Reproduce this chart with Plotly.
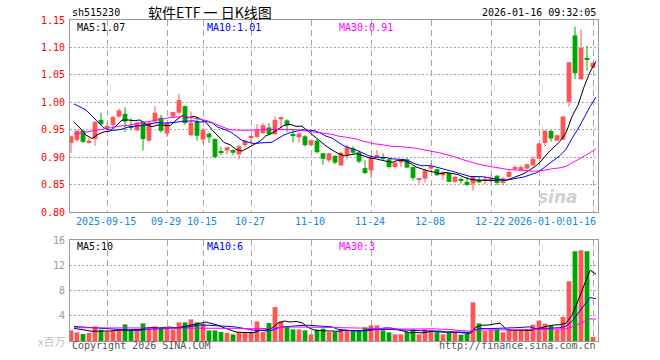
import plotly.graph_objects as go
import pandas as pd

# ---------------- data ----------------
days_2025_09 = [5, 8, 9, 10, 11, 12, 15, 16, 17, 18, 19, 22, 23, 24, 25, 26, 29, 30]
days_2025_10 = [9, 10, 13, 14, 15, 16, 17, 20, 21, 22, 23, 24, 27, 28, 29, 30, 31]
days_2025_11 = [3, 4, 5, 6, 7, 10, 11, 12, 13, 14, 17, 18, 19, 20, 21, 24, 25, 26, 27, 28]
days_2025_12 = [1, 2, 3, 4, 5, 8, 9, 10, 11, 12, 15, 16, 17, 18, 19, 22, 23, 24, 25, 26, 29, 30, 31]
days_2026_01 = [5, 6, 7, 8, 9, 12, 13, 14, 15, 16]
dates = ([f"2025-09-{d:02d}" for d in days_2025_09] + [f"2025-10-{d:02d}" for d in days_2025_10]
         + [f"2025-11-{d:02d}" for d in days_2025_11] + [f"2025-12-{d:02d}" for d in days_2025_12]
         + [f"2026-01-{d:02d}" for d in days_2026_01])

opens = [0.926, 0.931, 0.948, 0.926, 0.933, 0.968, 0.954, 0.959, 0.974, 0.979,
         0.957, 0.949, 0.965, 0.930, 0.965, 0.972, 0.943, 0.974, 0.981, 0.993,
         0.940, 0.965, 0.932, 0.943, 0.933, 0.911, 0.912, 0.913, 0.905, 0.922,
         0.936, 0.937, 0.944, 0.954, 0.942, 0.969, 0.967, 0.941, 0.936, 0.938,
         0.922, 0.930, 0.907, 0.894, 0.902, 0.885, 0.904, 0.916, 0.909, 0.880,
         0.876, 0.901, 0.899, 0.896, 0.882, 0.890, 0.896, 0.882, 0.860, 0.861,
         0.879, 0.878, 0.867, 0.871, 0.855, 0.859, 0.855, 0.852, 0.859, 0.857,
         0.858, 0.866, 0.853, 0.864, 0.880, 0.876, 0.879, 0.885, 0.897, 0.926,
         0.948, 0.930, 0.932, 1.001, 1.122, 1.042, 1.081, 1.063]
highs = [0.939, 0.950, 0.949, 0.935, 0.966, 0.981, 0.962, 0.975, 0.989, 0.991,
         0.971, 0.965, 0.966, 0.965, 0.993, 0.977, 0.963, 0.983, 1.015, 0.994,
         0.983, 0.974, 0.953, 0.944, 0.934, 0.919, 0.919, 0.914, 0.922, 0.931,
         0.940, 0.960, 0.962, 0.962, 0.974, 0.973, 0.969, 0.950, 0.945, 0.940,
         0.932, 0.933, 0.908, 0.908, 0.904, 0.910, 0.922, 0.920, 0.912, 0.894,
         0.903, 0.913, 0.907, 0.898, 0.892, 0.896, 0.898, 0.883, 0.862, 0.879,
         0.890, 0.879, 0.874, 0.872, 0.866, 0.863, 0.864, 0.866, 0.865, 0.865,
         0.867, 0.868, 0.864, 0.876, 0.885, 0.885, 0.888, 0.902, 0.926, 0.949,
         0.949, 0.941, 0.975, 1.073, 1.138, 1.133, 1.103, 1.073]
lows = [0.908, 0.928, 0.926, 0.925, 0.921, 0.958, 0.951, 0.956, 0.972, 0.946,
        0.949, 0.947, 0.912, 0.928, 0.962, 0.945, 0.937, 0.972, 0.977, 0.959,
        0.938, 0.930, 0.925, 0.926, 0.899, 0.904, 0.905, 0.904, 0.896, 0.918,
        0.925, 0.935, 0.942, 0.940, 0.940, 0.950, 0.946, 0.927, 0.926, 0.919,
        0.920, 0.907, 0.886, 0.890, 0.887, 0.884, 0.896, 0.906, 0.889, 0.869,
        0.862, 0.900, 0.893, 0.879, 0.879, 0.882, 0.880, 0.857, 0.852, 0.853,
        0.873, 0.866, 0.858, 0.855, 0.853, 0.852, 0.848, 0.839, 0.853, 0.851,
        0.853, 0.849, 0.849, 0.862, 0.875, 0.874, 0.878, 0.884, 0.896, 0.919,
        0.928, 0.929, 0.931, 0.992, 1.042, 1.041, 1.058, 1.062]
closes = [0.938, 0.948, 0.928, 0.930, 0.964, 0.960, 0.956, 0.973, 0.985, 0.965,
          0.953, 0.963, 0.933, 0.963, 0.981, 0.948, 0.962, 0.982, 1.004, 0.962,
          0.963, 0.939, 0.950, 0.936, 0.900, 0.909, 0.918, 0.908, 0.920, 0.930,
          0.938, 0.949, 0.958, 0.942, 0.968, 0.973, 0.958, 0.940, 0.943, 0.922,
          0.931, 0.909, 0.897, 0.907, 0.890, 0.908, 0.918, 0.908, 0.892, 0.871,
          0.899, 0.903, 0.898, 0.882, 0.890, 0.895, 0.881, 0.862, 0.861, 0.876,
          0.883, 0.867, 0.873, 0.855, 0.864, 0.858, 0.849, 0.864, 0.854, 0.860,
          0.861, 0.853, 0.861, 0.873, 0.882, 0.882, 0.887, 0.897, 0.925, 0.948,
          0.934, 0.940, 0.974, 1.073, 1.053, 1.099, 1.077, 1.072]
volumes = [1.68, 1.36, 1.10, 1.26, 2.32, 1.79, 1.42, 1.58, 1.58, 2.63,
           1.68, 1.68, 2.79, 1.95, 2.32, 2.05, 1.95, 1.84, 2.95, 2.95,
           3.43, 2.95, 2.74, 1.68, 1.68, 1.42, 1.26, 1.05, 1.42, 1.42,
           1.42, 3.11, 1.42, 2.84, 5.37, 3.11, 2.32, 1.84, 1.84, 1.68,
           1.05, 1.79, 1.95, 1.42, 1.42, 1.84, 1.68, 1.58, 1.58, 2.16,
           2.48, 2.48, 1.68, 1.37, 1.05, 1.05, 1.42, 1.84, 1.05, 1.84,
           1.68, 1.42, 1.05, 1.31, 1.42, 1.00, 1.16, 6.13, 2.79, 1.58,
           1.79, 1.84, 1.37, 1.84, 1.68, 1.68, 1.68, 2.58, 3.22, 2.74,
           2.48, 1.84, 3.80, 9.46, 14.22, 14.38, 14.22, 0.63]

# moving-average values for days whose window starts before the visible range
ma5_head = [0.964, 0.953, 0.940, 0.934]
ma10_head = [0.997, 0.992, 0.986, 0.975, 0.964, 0.953, 0.949, 0.949, 0.951]
ma30_head = [0.942, 0.944, 0.946, 0.948, 0.950, 0.952, 0.954, 0.955, 0.957, 0.958,
             0.960, 0.963, 0.965, 0.967, 0.969, 0.971, 0.972, 0.973, 0.974, 0.973,
             0.971, 0.969, 0.967, 0.963, 0.958, 0.954, 0.950, 0.949, 0.949]
vma5_head = [2.0, 1.9, 1.7, 1.55]
vma10_head = [2.3, 2.25, 2.2, 2.1, 2.0, 1.95, 1.9, 1.85, 1.8]
vma30_head = [2.1] * 18 + [2.05] * 6 + [2.0] * 5

price_ticks = [1.15, 1.10, 1.05, 1.00, 0.95, 0.90, 0.85, 0.80]
price_tick_labels = ["1.15", "1.10", "1.05", "1.00", "0.95", "0.90", "0.85", "0.80"]
vol_ticks = [16, 12, 8, 4]
vol_tick_labels = ["16", "12", "8", "4"]
date_tick_dates = ["2025-09-15", "2025-09-29", "2025-10-15", "2025-10-27", "2025-11-10",
                   "2025-11-24", "2025-12-08", "2025-12-22", "2026-01-05", "2026-01-16"]
date_tick_labels = ["2025-09-15", "09-29", "10-15", "10-27", "11-10",
                    "11-24", "12-08", "12-22", "2026-01-05", "01-16"]

title_code = "sh515230"
title_name = "软件ETF 一 日K线图"
timestamp = "2026-01-16 09:32:05"
legend_main = ["MA5:1.07", "MA10:1.01", "MA30:0.91"]
legend_vol = ["MA5:10", "MA10:6", "MA30:3"]

# ---------------- styling ----------------
RED = "#ff5555"
GREEN = "#00a600"
MA_COLORS = ["#000000", "#0000ff", "#ff00ff"]
GRID = "#a8a8a8"
FRAME = "#9a9a9a"
MONO = "DejaVu Sans Mono"

W, H = 660, 360
L, R, T, B = 70, 62, 20, 19
PW = W - L - R
PH = H - T - B
MAIN_BOTTOM_PX = 212
VOL_TOP_PX = 240


def px_x(px):
    return (px - L) / PW


def px_y(py):
    return (H - B - py) / PH


n = len(closes)
idx = list(range(n))
colors = [RED if c >= o else GREEN for o, c in zip(opens, closes)]


def rolling_with_head(values, win, head):
    s = pd.Series(values).rolling(win).mean().tolist()
    for k, v in enumerate(head):
        s[k] = v
    return s


ma_main = [rolling_with_head(closes, 5, ma5_head),
           rolling_with_head(closes, 10, ma10_head),
           rolling_with_head(closes, 30, ma30_head)]
ma_vol = [rolling_with_head(volumes, 5, vma5_head),
          rolling_with_head(volumes, 10, vma10_head),
          rolling_with_head(volumes, 30, vma30_head)]

fig = go.Figure()

# wicks
for col in (RED, GREEN):
    xs, ys = [], []
    for i in idx:
        if colors[i] == col:
            xs += [i, i, None]
            ys += [lows[i], highs[i], None]
    fig.add_trace(go.Scatter(x=xs, y=ys, mode="lines", line=dict(color=col, width=1),
                             hoverinfo="skip", xaxis="x", yaxis="y"))

# bodies
MIN_BODY = 0.0018
body_base = [min(o, c) for o, c in zip(opens, closes)]
body_h = [max(abs(c - o), MIN_BODY) for o, c in zip(opens, closes)]
fig.add_trace(go.Bar(x=idx, y=body_h, base=body_base, width=0.8,
                     marker=dict(color=colors, line=dict(width=0)), xaxis="x", yaxis="y"))

# price MAs (drawn half a day to the right, as in the original)
for ma, col in zip(ma_main, MA_COLORS):
    fig.add_trace(go.Scatter(x=[i + 0.5 for i in idx], y=ma, mode="lines",
                             line=dict(color=col, width=1), xaxis="x", yaxis="y"))

# volume
fig.add_trace(go.Bar(x=idx, y=volumes, width=0.8,
                     marker=dict(color=colors, line=dict(width=0)), xaxis="x2", yaxis="y2"))
for ma, col in zip(ma_vol, MA_COLORS):
    fig.add_trace(go.Scatter(x=[i + 0.5 for i in idx], y=ma, mode="lines",
                             line=dict(color=col, width=1), xaxis="x2", yaxis="y2"))

tick_idx = [dates.index(d) for d in date_tick_dates]
xrange = [-1 / 6, 87 + 5 / 6]

main_dom = [px_y(MAIN_BOTTOM_PX), 1.0]
vol_dom = [0.0, px_y(VOL_TOP_PX)]

common_x = dict(range=xrange, tickvals=tick_idx, showticklabels=False, ticks="",
                showgrid=True, gridcolor=GRID, gridwidth=1, griddash="6px,4px",
                showline=True, linecolor=FRAME, linewidth=1, mirror=True, zeroline=False)

fig.update_layout(
    width=W, height=H, margin=dict(l=L, r=R, t=T, b=B),
    paper_bgcolor="white", plot_bgcolor="white", showlegend=False, barmode="overlay",
    xaxis=dict(domain=[0, 1], anchor="y", **common_x),
    xaxis2=dict(domain=[0, 1], anchor="y2", **common_x),
    yaxis=dict(domain=main_dom, range=[0.80, 1.15], tickvals=[1.10, 1.05, 1.00, 0.95, 0.90, 0.85],
               showticklabels=False, ticks="", showgrid=True, gridcolor=GRID, griddash="2px,2px",
               showline=True, linecolor=FRAME, linewidth=1, mirror=True, zeroline=False),
    yaxis2=dict(domain=vol_dom, range=[0, 16], tickvals=[4, 8, 12],
                showticklabels=False, ticks="", showgrid=True, gridcolor=GRID, griddash="2px,2px",
                showline=True, linecolor=FRAME, linewidth=1, mirror=True, zeroline=False),
)

ann = []


def text(x, y, s, color="#000000", size=10, family=MONO, xanchor="left", yanchor="middle",
         xref="paper", yref="paper", **kw):
    ann.append(dict(x=x, y=y, text=s, showarrow=False, xref=xref, yref=yref, xanchor=xanchor,
                    yanchor=yanchor, font=dict(color=color, size=size, family=family), **kw))


# header
text(px_x(70), px_y(12), title_code)
text(px_x(210), px_y(12), title_name, size=14, family="Noto Sans CJK SC", xanchor="center")
text(px_x(598), px_y(12), timestamp, xanchor="right")

# legends
for s, col, xp in zip(legend_main, MA_COLORS, [75, 205, 337]):
    text(px_x(xp), px_y(27), s, color=col)
for s, col, xp in zip(legend_vol, MA_COLORS, [75, 205, 337]):
    text(px_x(xp), px_y(246), s, color=col)

# price axis labels
for v, s in zip(price_ticks, price_tick_labels):
    text(px_x(67), v, s, color="#ff0000", xanchor="right", yref="y")
# volume axis labels
for v, s in zip(vol_ticks, vol_tick_labels):
    text(px_x(67), v, s, color="#999999", xanchor="right", yref="y2")
text(px_x(67), px_y(341), "x百万", color="#c0c0c0", size=11, family="Noto Sans CJK SC", xanchor="right")

# date labels
for k, (i, s) in enumerate(zip(tick_idx, date_tick_labels)):
    xp = 71 + 6 * i
    if k == len(tick_idx) - 1:
        text(px_x(564), px_y(221.5), s, color="#1188e6", xanchor="left", bgcolor="white", borderpad=1)
    else:
        text(px_x(xp - 1), px_y(221.5), s, color="#1188e6", xanchor="center")

# footer
text(px_x(70), px_y(346), "Copyright 2026 SINA.COM", color="#555555")
text(px_x(598), px_y(346), "http://finance.sina.com.cn", color="#555555", xanchor="right")

# watermark
ann.append(dict(x=px_x(580), y=px_y(197), text="<b><i>sina</i></b>", showarrow=False, xref="paper",
                yref="paper", font=dict(color="#d0d0d0", size=17, family="DejaVu Sans")))

fig.update_layout(annotations=ann)
fig.write_html("out.html", config={"displayModeBar": False},
               post_script="document.body.style.margin='0px';")
